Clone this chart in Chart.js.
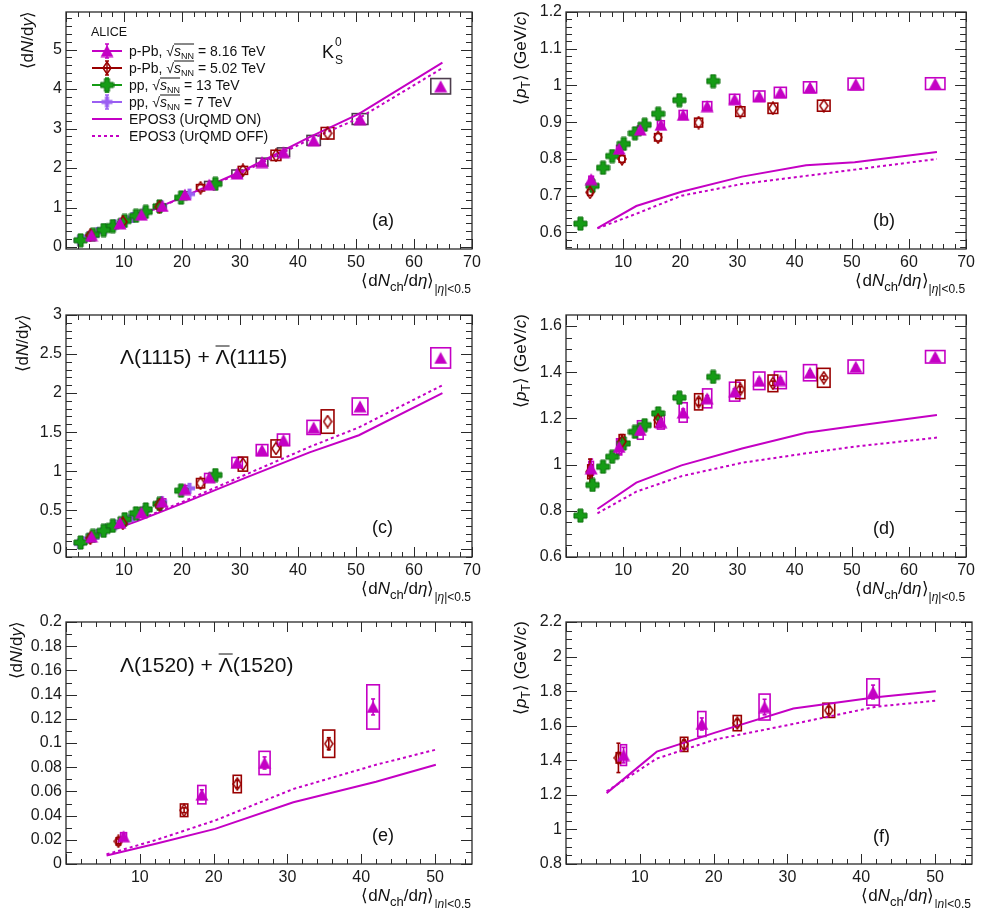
<!DOCTYPE html>
<html>
<head>
<meta charset="utf-8">
<script src="https://cdn.jsdelivr.net/npm/chart.js@4.4.1/dist/chart.umd.min.js"></script>
<style>
  body { margin: 0; background: #fff; }
  #wrap { position: relative; width: 981px; height: 908px; overflow: hidden; }
  #wrap canvas { position: absolute; }
</style>
</head>
<body>
<div id="wrap">
  <canvas id="pa" width="490" height="310" style="left:0;top:0"></canvas>
  <canvas id="pb" width="491" height="310" style="left:490px;top:0"></canvas>
  <canvas id="pc" width="490" height="310" style="left:0;top:300px"></canvas>
  <canvas id="pd" width="491" height="310" style="left:490px;top:300px"></canvas>
  <canvas id="pe" width="490" height="308" style="left:0;top:600px"></canvas>
  <canvas id="pf" width="491" height="308" style="left:490px;top:600px"></canvas>
</div>
<script>
const MAGENTA = '#c400c4', DARKRED = '#990000', GREEN = '#169c16', PURPLE = '#9a5ef2';
const FONT = '"Liberation Sans", Arial, Helvetica, sans-serif';

// <dNch/deta> of each multiplicity class (and x half-width of the syst. boxes)
const nchPPb816 = [64.6, 50.7, 42.7, 37.5, 33.8, 29.5, 24.7, 20.5, 16.6, 13.0, 9.3, 4.4];
const nchPPb816SysX = [1.7, 1.35, 1.15, 1.05, 1.0, 0.9, 0.8, 0.7, 0.6, 0.5, 0.45, 0.4];
const nchPPb502 = [45.1, 36.2, 30.5, 23.2, 16.1, 9.8, 4.2];
const nchPPb502SysX = [1.1, 0.85, 0.8, 0.7, 0.6, 0.5, 0.4];
const nchPP13 = [25.75, 19.83, 16.12, 13.76, 12.06, 10.11, 8.07, 6.48, 4.64, 2.52];
const nchPP7 = [21.3, 16.5, 13.5, 11.5, 10.1, 8.45, 6.72, 5.4, 3.9, 2.26];
const nchEpos = [5.5, 12.3, 20.2, 30.8, 42.0, 50.5, 64.9];
const nchL1520PPb816 = [41.6, 26.9, 18.4, 7.8];
const nchL1520PPb816SysX = [0.85, 0.75, 0.55, 0.4];
const nchL1520PPb502 = [35.6, 23.2, 16.0, 7.1];
const nchL1520PPb502SysX = [0.8, 0.55, 0.5, 0.3];
const nchEposL1520 = [5.5, 12.3, 20.2, 30.8, 42.0, 50.1];

// K0S dN/dy
const k0YieldPPb816 = [4.07, 3.24, 2.70, 2.40, 2.15, 1.86, 1.58, 1.33, 1.04, 0.82, 0.60, 0.30];
const k0YieldPPb816Sys = [0.195, 0.137, 0.125, 0.11, 0.1, 0.09, 0.08, 0.07, 0.05, 0.04, 0.03, 0.02];
const k0YieldPPb502 = [2.88, 2.32, 1.94, 1.50, 1.02, 0.64, 0.30];
const k0YieldPPb502Sys = [0.146, 0.13, 0.1, 0.08, 0.06, 0.04, 0.03];
const k0YieldPP13 = [1.60, 1.25, 1.03, 0.89, 0.79, 0.66, 0.53, 0.43, 0.31, 0.17];
const k0YieldPP7 = [1.34, 1.04, 0.87, 0.75, 0.66, 0.56, 0.45, 0.37, 0.27, 0.17];
const k0YieldEposOn = [0.36, 0.78, 1.27, 1.95, 2.78, 3.37, 4.67];
const k0YieldEposOff = [0.35, 0.77, 1.26, 1.92, 2.72, 3.26, 4.53];

// K0S <pT>
const k0PtPPb816 = [1.005, 1.004, 0.995, 0.981, 0.971, 0.963, 0.944, 0.920, 0.893, 0.880, 0.828, 0.745];
const k0PtPPb816Sys = [0.016, 0.016, 0.015, 0.014, 0.014, 0.013, 0.012, 0.012, 0.011, 0.01, 0.009, 0.008];
const k0PtPPb502 = [0.945, 0.938, 0.929, 0.899, 0.859, 0.800, 0.709];
const k0PtPPb502Sys = [0.015, 0.014, 0.013, 0.012, 0.01, 0.009, 0.008];
const k0PtPP13 = [1.012, 0.960, 0.923, 0.893, 0.870, 0.841, 0.808, 0.776, 0.727, 0.624];
const k0PtEposOn = [0.612, 0.672, 0.711, 0.752, 0.783, 0.791, 0.819];
const k0PtEposOff = [0.611, 0.651, 0.700, 0.732, 0.754, 0.771, 0.800];

// Lambda(1115) dN/dy
const lamYieldPPb816 = [2.45, 1.83, 1.56, 1.40, 1.27, 1.11, 0.92, 0.77, 0.61, 0.47, 0.34, 0.16];
const lamYieldPPb816Sys = [0.13, 0.107, 0.09, 0.075, 0.07, 0.065, 0.05, 0.045, 0.035, 0.03, 0.02, 0.015];
const lamYieldPPb502 = [1.635, 1.29, 1.09, 0.845, 0.57, 0.33, 0.14];
const lamYieldPPb502Sys = [0.15, 0.11, 0.09, 0.06, 0.04, 0.03, 0.02];
const lamYieldPP13 = [0.95, 0.75, 0.58, 0.51, 0.46, 0.385, 0.30, 0.235, 0.17, 0.085];
const lamYieldPP7 = [0.78, 0.61, 0.49, 0.42, 0.36, 0.31, 0.25, 0.19, 0.14, 0.07];
const lamYieldEposOn = [0.18, 0.36, 0.59, 0.91, 1.24, 1.46, 2.00];
const lamYieldEposOff = [0.19, 0.37, 0.61, 0.95, 1.31, 1.56, 2.10];

// Lambda(1115) <pT>
const lamPtPPb816 = [1.467, 1.424, 1.398, 1.366, 1.363, 1.316, 1.287, 1.226, 1.184, 1.150, 1.077, 0.984];
const lamPtPPb816Sys = [0.027, 0.029, 0.035, 0.037, 0.038, 0.041, 0.041, 0.042, 0.03, 0.04, 0.035, 0.03];
const lamPtPPb816Stat = [0.005, 0.006, 0.008, 0.01, 0.01, 0.012, 0.012, 0.015, 0.015, 0.02, 0.03, 0.04];
const lamPtPPb502 = [1.376, 1.352, 1.326, 1.272, 1.193, 1.100, 0.969];
const lamPtPPb502Sys = [0.041, 0.036, 0.04, 0.035, 0.03, 0.03, 0.03];
const lamPtPPb502Stat = [0.008, 0.01, 0.012, 0.015, 0.02, 0.03, 0.055];
const lamPtPP13 = [1.38, 1.29, 1.222, 1.171, 1.142, 1.092, 1.034, 0.991, 0.912, 0.779];
const lamPtEposOn = [0.808, 0.922, 0.997, 1.07, 1.138, 1.167, 1.215];
const lamPtEposOff = [0.789, 0.883, 0.95, 1.008, 1.049, 1.078, 1.117];

// Lambda(1520) dN/dy and <pT>
const l1520YieldPPb816 = [0.1298, 0.0835, 0.0573, 0.0229];
const l1520YieldPPb816Sys = [0.0183, 0.0096, 0.0076, 0.003];
const l1520YieldPPb816Stat = [0.0066, 0.005, 0.004, 0.002];
const l1520YieldPPb502 = [0.0994, 0.0661, 0.0444, 0.0187];
const l1520YieldPPb502Sys = [0.0113, 0.0072, 0.0052, 0.003];
const l1520YieldPPb502Stat = [0.005, 0.003, 0.002, 0.002];
const l1520YieldEposOn = [0.007, 0.017, 0.029, 0.051, 0.068, 0.082];
const l1520YieldEposOff = [0.008, 0.02, 0.036, 0.062, 0.082, 0.0945];
const l1520PtPPb816 = [1.795, 1.708, 1.61, 1.43];
const l1520PtPPb816Sys = [0.076, 0.075, 0.072, 0.06];
const l1520PtPPb816Stat = [0.04, 0.045, 0.035, 0.045];
const l1520PtPPb502 = [1.689, 1.615, 1.492, 1.414];
const l1520PtPPb502Sys = [0.041, 0.044, 0.041, 0.03];
const l1520PtPPb502Stat = [0.02, 0.02, 0.025, 0.085];
const l1520PtEposOn = [1.21, 1.45, 1.56, 1.70, 1.765, 1.80];
const l1520PtEposOff = [1.22, 1.41, 1.52, 1.61, 1.71, 1.745];

// tick labels
const nchTicks = [10, 20, 30, 40, 50, 60, 70];
const nchTicksL1520 = [10, 20, 30, 40, 50];
const k0YieldTicks = [0, 1, 2, 3, 4, 5];
const k0PtTicks = [0.6, 0.7, 0.8, 0.9, 1, 1.1, 1.2];
const lamYieldTicks = [0, 0.5, 1, 1.5, 2, 2.5, 3];
const lamPtTicks = [0.6, 0.8, 1, 1.2, 1.4, 1.6];
const l1520YieldTicks = [0, 0.02, 0.04, 0.06, 0.08, 0.1, 0.12, 0.14, 0.16, 0.18, 0.2];
const l1520PtTicks = [0.8, 1, 1.2, 1.4, 1.6, 1.8, 2, 2.2];

const f = (size, style) => `${style || ''} ${size}px ${FONT}`;

// ---- markers ----
function markerCanvas(w, h, paint) {
  const c = document.createElement('canvas');
  c.width = w; c.height = h;
  paint(c.getContext('2d'));
  return c;
}
function plusPath(g, cx, cy, r, t) {
  g.beginPath();
  g.moveTo(cx - t, cy - r); g.lineTo(cx + t, cy - r); g.lineTo(cx + t, cy - t);
  g.lineTo(cx + r, cy - t); g.lineTo(cx + r, cy + t); g.lineTo(cx + t, cy + t);
  g.lineTo(cx + t, cy + r); g.lineTo(cx - t, cy + r); g.lineTo(cx - t, cy + t);
  g.lineTo(cx - r, cy + t); g.lineTo(cx - r, cy - t); g.lineTo(cx - t, cy - t);
  g.closePath();
}
const triangle = markerCanvas(14, 13, g => {
  g.fillStyle = MAGENTA;
  g.beginPath(); g.moveTo(7, 0.5); g.lineTo(13.5, 12.5); g.lineTo(0.5, 12.5); g.closePath();
  g.fill();
});
const diamond = markerCanvas(10, 14, g => {
  g.strokeStyle = DARKRED; g.lineWidth = 1.5;
  g.beginPath(); g.moveTo(5, 1); g.lineTo(9, 7); g.lineTo(5, 13); g.lineTo(1, 7); g.closePath();
  g.stroke();
});
const greenCross = markerCanvas(15, 15, g => {
  plusPath(g, 7.5, 7.5, 6.5, 2.5);
  g.fillStyle = GREEN; g.fill();
  g.strokeStyle = '#0b6e0b'; g.lineWidth = 1; g.stroke();
});
const purpleCross = markerCanvas(13, 13, g => {
  plusPath(g, 6.5, 6.5, 5.5, 2);
  g.fillStyle = PURPLE; g.fill();
});

// ---- datasets ----
function dataSeries(xs, ys, marker, extra) {
  return Object.assign({
    data: xs.map((x, i) => ({ x, y: ys[i] })),
    pointStyle: marker, pointRadius: 6, showLine: false
  }, extra);
}
function eposLine(xs, ys, dashed) {
  return {
    data: xs.map((x, i) => ({ x, y: ys[i] })),
    showLine: true, pointRadius: 0, borderColor: MAGENTA, borderWidth: 2,
    borderDash: dashed ? [3, 3] : [], tension: 0
  };
}

// ---- rich text ----
function richWidth(ctx, segs) {
  let w = 0;
  for (const s of segs) { ctx.font = s.font; w += ctx.measureText(s.t).width; }
  return w;
}
function drawRich(ctx, x, y, segs) {
  let cx = x;
  for (const s of segs) {
    ctx.font = s.font;
    const w = ctx.measureText(s.t).width;
    ctx.fillText(s.t, cx, y + (s.dy || 0));
    if (s.over !== undefined) {
      ctx.save();
      ctx.lineWidth = 1; ctx.strokeStyle = ctx.fillStyle;
      ctx.beginPath(); ctx.moveTo(cx, y + s.over); ctx.lineTo(cx + w, y + s.over); ctx.stroke();
      ctx.restore();
    }
    cx += w;
  }
}

const yieldTitle = [
  { t: '⟨d', font: f(17) }, { t: 'N', font: f(17, 'italic') },
  { t: '/d', font: f(17) }, { t: 'y', font: f(17, 'italic') }, { t: '⟩', font: f(17) }
];
const ptTitle = [
  { t: '⟨', font: f(17) }, { t: 'p', font: f(17, 'italic') }, { t: 'T', font: f(12), dy: 4 },
  { t: '⟩ (GeV/', font: f(17) }, { t: 'c', font: f(17, 'italic') }, { t: ')', font: f(17) }
];
const nchTitle = [
  { t: '⟨d', font: f(17) }, { t: 'N', font: f(17, 'italic') }, { t: 'ch', font: f(13), dy: 5 },
  { t: '/d', font: f(17) }, { t: 'η', font: f(17, 'italic') }, { t: '⟩', font: f(17) },
  { t: '|', font: f(12), dy: 7 }, { t: 'η', font: f(12, 'italic'), dy: 7 }, { t: '|<0.5', font: f(12), dy: 7 }
];
function sqrtLabel(head, tail) {
  return [
    { t: head, font: f(14) }, { t: '√', font: f(14) },
    { t: 's', font: f(14, 'italic'), over: -12 }, { t: 'NN', font: f(9), dy: 3, over: -12 },
    { t: tail, font: f(14) }
  ];
}
function lambdaLabel(mass) {
  return [
    { t: 'Λ(' + mass + ') + ', font: f(21) },
    { t: 'Λ', font: f(21), over: -18 },
    { t: '(' + mass + ')', font: f(21) }
  ];
}

// ---- decorations: uncertainties, frame with ROOT-style ticks, titles ----
function line(ctx, x0, y0, x1, y1) {
  ctx.beginPath(); ctx.moveTo(x0, y0); ctx.lineTo(x1, y1); ctx.stroke();
}
function drawUncertainties(chart) {
  const { ctx, chartArea: a, scales: { x, y } } = chart;
  ctx.save();
  ctx.beginPath(); ctx.rect(a.left, a.top, a.right - a.left, a.bottom - a.top); ctx.clip();
  chart.data.datasets.forEach(ds => {
    if (!ds.sysY && !ds.stat) return;
    ds.data.forEach((pt, i) => {
      const px = x.getPixelForValue(pt.x);
      if (ds.sysY) {
        const x0 = x.getPixelForValue(pt.x - ds.sysX[i]);
        const x1 = x.getPixelForValue(pt.x + ds.sysX[i]);
        const y0 = y.getPixelForValue(pt.y + ds.sysY[i]);
        const y1 = y.getPixelForValue(pt.y - ds.sysY[i]);
        ctx.strokeStyle = ds.boxColor; ctx.lineWidth = 1.6;
        ctx.strokeRect(x0, y0, x1 - x0, y1 - y0);
      }
      if (ds.stat) {
        const y0 = y.getPixelForValue(pt.y + ds.stat[i]);
        const y1 = y.getPixelForValue(pt.y - ds.stat[i]);
        ctx.strokeStyle = ds.statColor; ctx.lineWidth = 1.6;
        line(ctx, px, y0, px, y1);
        line(ctx, px - 2, y0, px + 2, y0);
        line(ctx, px - 2, y1, px + 2, y1);
      }
    });
  });
  ctx.restore();
}
function drawAxisTicks(ctx, scale, min, max, minor, major, horizontal, a) {
  const n0 = Math.ceil(min / minor - 1e-6), n1 = Math.floor(max / minor + 1e-6);
  for (let k = n0; k <= n1; k++) {
    const v = k * minor;
    const isMajor = Math.abs(v / major - Math.round(v / major)) < 1e-6;
    const p = Math.round(scale.getPixelForValue(v)) + 0.5;
    if (horizontal) {
      const len = isMajor ? 10 : 5;
      line(ctx, p, a.bottom, p, a.bottom - len);
      line(ctx, p, a.top, p, a.top + len);
    } else {
      const len = isMajor ? 11 : 6;
      line(ctx, a.left, p, a.left + len, p);
      line(ctx, a.right, p, a.right - len, p);
    }
  }
}
function decoPlugin(p) {
  return {
    id: 'deco',
    beforeDatasetsDraw(chart) { drawUncertainties(chart); },
    afterDraw(chart) {
      const { ctx, chartArea: a, scales: { x, y } } = chart;
      ctx.save();
      ctx.strokeStyle = '#2a2a2a'; ctx.lineWidth = 1.3;
      ctx.strokeRect(a.left, a.top, a.right - a.left, a.bottom - a.top);
      ctx.lineWidth = 1;
      drawAxisTicks(ctx, x, p.xMin, p.xMax, p.xMinor, p.xMajor, true, a);
      drawAxisTicks(ctx, y, p.yMin, p.yMax, p.yMinor, p.yMajor, false, a);

      ctx.fillStyle = '#111'; ctx.textBaseline = 'alphabetic';
      // x title, right aligned under the frame
      drawRich(ctx, a.right - 1 - richWidth(ctx, nchTitle), a.bottom + 37, nchTitle);
      // y title, rotated, ending at the top of the frame
      ctx.save();
      ctx.translate(p.yTitleX, a.top - 1);
      ctx.rotate(-Math.PI / 2);
      drawRich(ctx, -richWidth(ctx, p.yTitle), 0, p.yTitle);
      ctx.restore();
      // panel tag
      ctx.font = f(18); ctx.textBaseline = 'middle';
      ctx.fillText(p.tag, p.tagPos[0], p.tagPos[1]);
      ctx.textBaseline = 'alphabetic';
      if (p.extra) p.extra(ctx);
      ctx.restore();
    }
  };
}

const fmt = v => String(+v.toFixed(3));

function panel(id, p) {
  const cv = document.getElementById(id);
  const W = cv.width, H = cv.height;
  const tickFont = { family: FONT, size: 16, lineHeight: 1 };
  new Chart(cv, {
    type: 'scatter',
    data: { datasets: p.datasets },
    options: {
      responsive: false, animation: false, events: [],
      layout: { padding: { left: 0, top: p.area.t, right: W - p.area.r, bottom: 0 } },
      plugins: { legend: { display: false }, tooltip: { enabled: false } },
      scales: {
        x: {
          type: 'linear', min: p.xMin, max: p.xMax,
          afterBuildTicks: s => { s.ticks = p.xTicks.map(v => ({ value: v })); },
          afterFit: s => { s.height = H - p.area.b; },
          grid: { display: false, drawTicks: false }, border: { display: false },
          ticks: { font: tickFont, color: '#1a1a1a', padding: 6, autoSkip: false, maxRotation: 0, callback: fmt }
        },
        y: {
          type: 'linear', min: p.yMin, max: p.yMax,
          afterBuildTicks: s => { s.ticks = p.yTicks.map(v => ({ value: v })); },
          afterFit: s => { s.width = p.area.l; },
          grid: { display: false, drawTicks: false }, border: { display: false },
          ticks: { font: tickFont, color: '#1a1a1a', padding: 4, autoSkip: false, callback: fmt }
        }
      }
    },
    plugins: [decoPlugin(p)]
  });
}

function drawLegend(ctx) {
  ctx.fillStyle = '#111';
  ctx.font = f(12.5);
  ctx.fillText('ALICE', 91, 36);
  const rows = [
    { color: MAGENTA, marker: triangle, text: sqrtLabel('p-Pb, ', ' = 8.16 TeV') },
    { color: DARKRED, marker: diamond, text: sqrtLabel('p-Pb, ', ' = 5.02 TeV') },
    { color: GREEN, marker: greenCross, text: sqrtLabel('pp, ', ' = 13 TeV') },
    { color: PURPLE, marker: purpleCross, text: sqrtLabel('pp, ', ' = 7 TeV') },
    { color: MAGENTA, text: [{ t: 'EPOS3 (UrQMD ON)', font: f(14) }] },
    { color: MAGENTA, dash: [3, 3], text: [{ t: 'EPOS3 (UrQMD OFF)', font: f(14) }] }
  ];
  rows.forEach((r, i) => {
    const cy = 51 + i * 17;
    ctx.strokeStyle = r.color; ctx.lineWidth = 2;
    ctx.setLineDash(r.dash || []);
    line(ctx, 92, cy, 122, cy);
    ctx.setLineDash([]);
    if (r.marker) {
      ctx.lineWidth = 1.5;
      line(ctx, 107, cy - 7, 107, cy + 7);
      line(ctx, 105, cy - 7, 109, cy - 7);
      line(ctx, 105, cy + 7, 109, cy + 7);
      ctx.drawImage(r.marker, 107 - r.marker.width / 2, cy - r.marker.height / 2);
    }
    ctx.fillStyle = '#111';
    drawRich(ctx, 129, cy + 5, r.text);
  });
}

// (a) K0S yields
panel('pa', {
  area: { l: 66, r: 472, t: 9, b: 249 },
  xMin: 0, xMax: 70, xTicks: nchTicks, xMinor: 2, xMajor: 10,
  yMin: -0.05, yMax: 5.95, yTicks: k0YieldTicks, yMinor: 0.2, yMajor: 1,
  yTitle: yieldTitle, yTitleX: 33, tag: '(a)', tagPos: [372, 221],
  datasets: [
    dataSeries(nchPPb816, k0YieldPPb816, triangle, { sysX: nchPPb816SysX, sysY: k0YieldPPb816Sys, boxColor: '#4d3d4d' }),
    dataSeries(nchPPb502, k0YieldPPb502, diamond, { sysX: nchPPb502SysX, sysY: k0YieldPPb502Sys, boxColor: DARKRED }),
    dataSeries(nchPP13, k0YieldPP13, greenCross),
    dataSeries(nchPP7, k0YieldPP7, purpleCross),
    eposLine(nchEpos, k0YieldEposOn, false),
    eposLine(nchEpos, k0YieldEposOff, true)
  ],
  extra: ctx => {
    drawLegend(ctx);
    ctx.fillStyle = '#111';
    ctx.font = f(18); ctx.fillText('K', 322, 58);
    ctx.font = f(12); ctx.fillText('0', 335, 46); ctx.fillText('S', 335, 64);
  }
});

// (b) K0S <pT>
panel('pb', {
  area: { l: 76, r: 482, t: 9, b: 249 },
  xMin: 0, xMax: 70, xTicks: nchTicks, xMinor: 2, xMajor: 10,
  yMin: 0.555, yMax: 1.2, yTicks: k0PtTicks, yMinor: 0.02, yMajor: 0.1,
  yTitle: ptTitle, yTitleX: 36, tag: '(b)', tagPos: [383, 221],
  datasets: [
    dataSeries(nchPPb816, k0PtPPb816, triangle, { sysX: nchPPb816SysX, sysY: k0PtPPb816Sys, boxColor: MAGENTA }),
    dataSeries(nchPPb502, k0PtPPb502, diamond, { sysX: nchPPb502SysX, sysY: k0PtPPb502Sys, boxColor: DARKRED }),
    dataSeries(nchPP13, k0PtPP13, greenCross),
    eposLine(nchEpos, k0PtEposOn, false),
    eposLine(nchEpos, k0PtEposOff, true)
  ]
});

// (c) Lambda(1115) yields
panel('pc', {
  area: { l: 66, r: 472, t: 15, b: 257 },
  xMin: 0, xMax: 70, xTicks: nchTicks, xMinor: 2, xMajor: 10,
  yMin: -0.1, yMax: 3, yTicks: lamYieldTicks, yMinor: 0.1, yMajor: 0.5,
  yTitle: yieldTitle, yTitleX: 28, tag: '(c)', tagPos: [372, 228],
  datasets: [
    dataSeries(nchPPb816, lamYieldPPb816, triangle, { sysX: nchPPb816SysX, sysY: lamYieldPPb816Sys, boxColor: MAGENTA }),
    dataSeries(nchPPb502, lamYieldPPb502, diamond, { sysX: nchPPb502SysX, sysY: lamYieldPPb502Sys, boxColor: DARKRED }),
    dataSeries(nchPP13, lamYieldPP13, greenCross),
    dataSeries(nchPP7, lamYieldPP7, purpleCross),
    eposLine(nchEpos, lamYieldEposOn, false),
    eposLine(nchEpos, lamYieldEposOff, true)
  ],
  extra: ctx => { ctx.fillStyle = '#111'; drawRich(ctx, 120, 64, lambdaLabel('1115')); }
});

// (d) Lambda(1115) <pT>
panel('pd', {
  area: { l: 76, r: 482, t: 15, b: 257 },
  xMin: 0, xMax: 70, xTicks: nchTicks, xMinor: 2, xMajor: 10,
  yMin: 0.6, yMax: 1.648, yTicks: lamPtTicks, yMinor: 0.05, yMajor: 0.2,
  yTitle: ptTitle, yTitleX: 36, tag: '(d)', tagPos: [383, 229],
  datasets: [
    dataSeries(nchPPb816, lamPtPPb816, triangle, { sysX: nchPPb816SysX, sysY: lamPtPPb816Sys, stat: lamPtPPb816Stat, boxColor: MAGENTA, statColor: MAGENTA }),
    dataSeries(nchPPb502, lamPtPPb502, diamond, { sysX: nchPPb502SysX, sysY: lamPtPPb502Sys, stat: lamPtPPb502Stat, boxColor: DARKRED, statColor: DARKRED }),
    dataSeries(nchPP13, lamPtPP13, greenCross),
    eposLine(nchEpos, lamPtEposOn, false),
    eposLine(nchEpos, lamPtEposOff, true)
  ]
});

// (e) Lambda(1520) yields
panel('pe', {
  area: { l: 66, r: 472, t: 22, b: 264 },
  xMin: 0, xMax: 55, xTicks: nchTicksL1520, xMinor: 2, xMajor: 10,
  yMin: 0, yMax: 0.2, yTicks: l1520YieldTicks, yMinor: 0.01, yMajor: 0.02,
  yTitle: yieldTitle, yTitleX: 22, tag: '(e)', tagPos: [372, 236],
  datasets: [
    dataSeries(nchL1520PPb816, l1520YieldPPb816, triangle, { sysX: nchL1520PPb816SysX, sysY: l1520YieldPPb816Sys, stat: l1520YieldPPb816Stat, boxColor: MAGENTA, statColor: MAGENTA }),
    dataSeries(nchL1520PPb502, l1520YieldPPb502, diamond, { sysX: nchL1520PPb502SysX, sysY: l1520YieldPPb502Sys, stat: l1520YieldPPb502Stat, boxColor: DARKRED, statColor: DARKRED }),
    eposLine(nchEposL1520, l1520YieldEposOn, false),
    eposLine(nchEposL1520, l1520YieldEposOff, true)
  ],
  extra: ctx => { ctx.fillStyle = '#111'; drawRich(ctx, 120, 72, lambdaLabel('1520')); }
});

// (f) Lambda(1520) <pT>
panel('pf', {
  area: { l: 76, r: 482, t: 22, b: 264 },
  xMin: 0, xMax: 55, xTicks: nchTicksL1520, xMinor: 2, xMajor: 10,
  yMin: 0.8, yMax: 2.2, yTicks: l1520PtTicks, yMinor: 0.05, yMajor: 0.2,
  yTitle: ptTitle, yTitleX: 36, tag: '(f)', tagPos: [383, 237],
  datasets: [
    dataSeries(nchL1520PPb816, l1520PtPPb816, triangle, { sysX: nchL1520PPb816SysX, sysY: l1520PtPPb816Sys, stat: l1520PtPPb816Stat, boxColor: MAGENTA, statColor: MAGENTA }),
    dataSeries(nchL1520PPb502, l1520PtPPb502, diamond, { sysX: nchL1520PPb502SysX, sysY: l1520PtPPb502Sys, stat: l1520PtPPb502Stat, boxColor: DARKRED, statColor: DARKRED }),
    eposLine(nchEposL1520, l1520PtEposOn, false),
    eposLine(nchEposL1520, l1520PtEposOff, true)
  ]
});
</script>
</body>
</html>
